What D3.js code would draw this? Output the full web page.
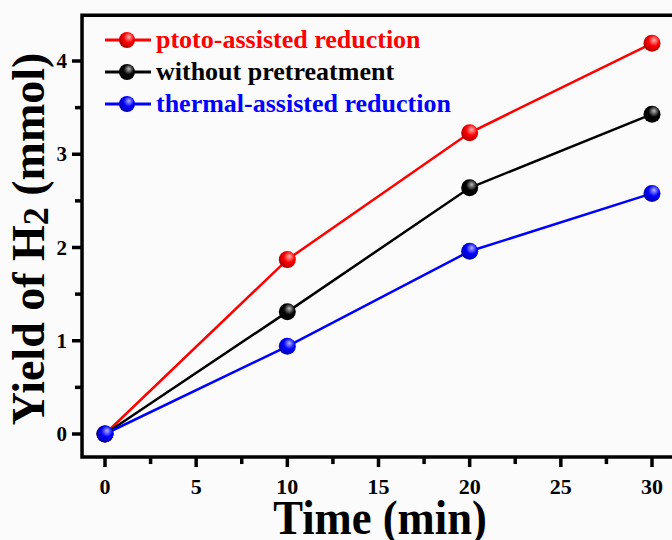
<!DOCTYPE html>
<meta charset="utf-8">
<style>
  body { margin: 0; background: #fbfbfb; }
  svg { display: block; }
  text { font-family: "Liberation Serif", "Times New Roman", serif; font-weight: bold; }
</style>
<svg></svg>
<script src="https://cdn.jsdelivr.net/npm/d3@7"></script>
<script>
// data
var times = [0, 10, 20, 30];
var seriesNames = ["ptoto-assisted reduction", "without pretreatment", "thermal-assisted reduction"];
var photoYield = [0, 1.87, 3.23, 4.19];
var plainYield = [0, 1.31, 2.64, 3.43];
var thermalYield = [0, 0.94, 1.96, 2.58];
var xTicks = [0, 5, 10, 15, 20, 25, 30];
var yTicks = [0, 1, 2, 3, 4];

var colors = ["#ff0000", "#000000", "#0000ff"];
var light = ["#ffb4b4", "#bbbbbb", "#b4b4ff"];
var series = [photoYield, plainYield, thermalYield];

var W = 672, H = 540;
var svg = d3.select("svg").attr("width", W).attr("height", H);

// plot box: the right edge of the frame runs off the image
var xMin = -1.26, yMin = -0.247, yMax = 4.49;
var x = d3.scaleLinear().domain([0, 30]).range([105, 652]);
var y = d3.scaleLinear().domain([0, 4]).range([434, 61]);

// gradients for the shiny ball markers
var defs = svg.append("defs");
colors.forEach(function(c, i) {
  var g = defs.append("radialGradient").attr("id", "ball" + i)
    .attr("cx", "0.6").attr("cy", "0.38").attr("r", "0.65").attr("fx", "0.62").attr("fy", "0.3");
  g.append("stop").attr("offset", "0").attr("stop-color", light[i]);
  g.append("stop").attr("offset", "0.5").attr("stop-color", c);
  g.append("stop").attr("offset", "1").attr("stop-color", d3.color(c).darker(1.2));
});

// frame (top + left + bottom)
svg.append("path")
  .attr("d", "M700," + y(yMax) + "H" + x(xMin) + "V" + y(yMin) + "H700")
  .attr("fill", "none").attr("stroke", "#000").attr("stroke-width", 3.5);

// x ticks
var xAxis = svg.append("g");
var xMinor = d3.range(0, 31, 2.5);
xAxis.selectAll("line").data(xMinor).join("line")
  .attr("x1", d => x(d)).attr("x2", d => x(d))
  .attr("y1", y(yMin)).attr("y2", d => y(yMin) + (d % 5 === 0 ? 10 : 7))
  .attr("stroke", "#000").attr("stroke-width", 3.5);
xAxis.selectAll("text").data(xTicks).join("text")
  .attr("x", d => x(d)).attr("y", 494)
  .attr("text-anchor", "middle").attr("font-size", 22)
  .text(d => d);

// y ticks
var yAxis = svg.append("g");
var yMinor = d3.range(0, 4.01, 0.5);
yAxis.selectAll("line").data(yMinor).join("line")
  .attr("y1", d => y(d)).attr("y2", d => y(d))
  .attr("x1", x(xMin)).attr("x2", d => x(xMin) - (d % 1 === 0 ? 10 : 7))
  .attr("stroke", "#000").attr("stroke-width", 3.5);
yAxis.selectAll("text").data(yTicks).join("text")
  .attr("x", 67).attr("y", d => y(d) + 7)
  .attr("text-anchor", "end").attr("font-size", 21)
  .text(d => d);

// axis titles (the original lettering is a bit tall and narrow)
svg.append("text").attr("transform", "translate(380,534) scale(0.93,1)")
  .attr("text-anchor", "middle").attr("font-size", 48)
  .text("Time (min)");
var yt = svg.append("text")
  .attr("transform", "translate(44,239) rotate(-90)")
  .attr("text-anchor", "middle").attr("font-size", 46);
yt.append("tspan").text("Yield of H");
yt.append("tspan").attr("font-size", 36).attr("dy", 4).text("2");
yt.append("tspan").attr("dy", -4).text(" (mmol)");

// lines and markers (blue ends on top at the origin)
var line = d3.line().x((d, i) => x(times[i])).y(d => y(d));
series.forEach(function(s, i) {
  svg.append("path").datum(s)
    .attr("d", line).attr("fill", "none")
    .attr("stroke", colors[i]).attr("stroke-width", 2.5);
});
series.forEach(function(s, i) {
  svg.append("g").selectAll("circle").data(s).join("circle")
    .attr("cx", (d, j) => x(times[j])).attr("cy", d => y(d))
    .attr("r", 8.5).attr("fill", "url(#ball" + i + ")");
});

// legend
var legend = svg.append("g");
seriesNames.forEach(function(name, i) {
  var ly = 40 + i * 32;
  legend.append("line").attr("x1", 105).attr("x2", 151).attr("y1", ly).attr("y2", ly)
    .attr("stroke", colors[i]).attr("stroke-width", 3);
  legend.append("circle").attr("cx", 127).attr("cy", ly).attr("r", 8)
    .attr("fill", "url(#ball" + i + ")");
  legend.append("text").attr("x", 156).attr("y", ly + 8)
    .attr("font-size", 26).attr("fill", colors[i]).text(name);
});
</script>
